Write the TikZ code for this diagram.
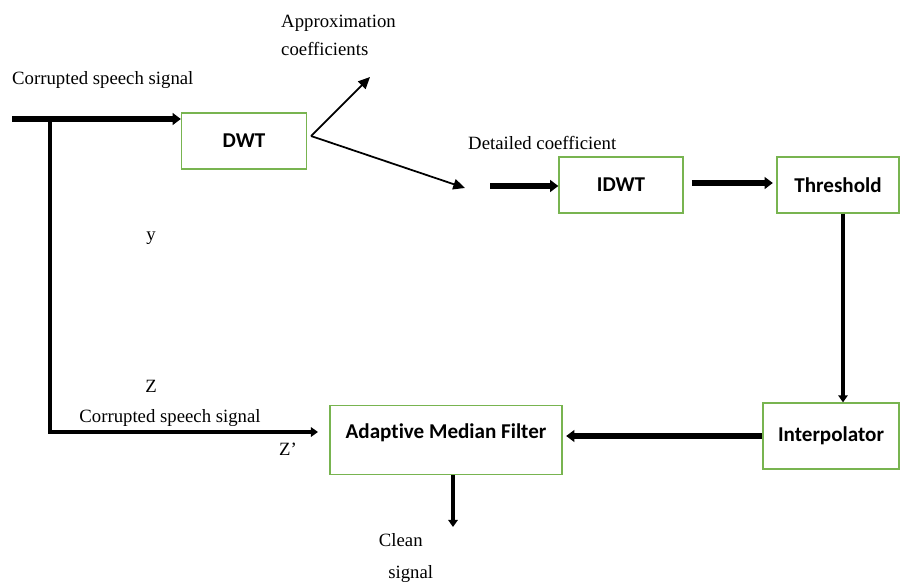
\documentclass[tikz,border=0pt]{standalone}
\usepackage{fontspec}
\setmainfont{Liberation Serif}
\newfontfamily\boxfont[Ligatures=NoCommon]{Carlito}
\usetikzlibrary{arrows.meta}
\definecolor{boxgreen}{RGB}{120,180,80}

\begin{document}
\begin{tikzpicture}[x=0.03cm, y=-0.03cm,
    block/.style={draw=boxgreen, line width=1.1pt, inner sep=0pt,
        font=\boxfont\bfseries\fontsize{18}{20}\selectfont},
    lbl/.style={inner sep=0pt, font=\fontsize{16}{24}\selectfont},
    fat/.style={line width=4.6pt, -{Triangle[length=7pt,width=10pt]}},
    mid/.style={line width=3pt, -{Triangle[length=6pt,width=8pt]}},
    thin/.style={line width=1.5pt, -{Triangle[length=10pt,width=9pt]}}]

    % Fix the page to the picture size
    \useasboundingbox (0,0) rectangle (900,584);

    % Blocks
    \node[block, minimum width=3.75cm, minimum height=1.68cm] (dwt) at (244,141) {DWT};
    \node[block, minimum width=3.72cm, minimum height=1.68cm] (idwt) at (621,185) {IDWT};
    \node[block, minimum width=3.66cm, minimum height=1.68cm] (thr) at (838,185) {Threshold};
    \node[block, minimum width=4.08cm, minimum height=1.98cm] (interp) at (831,436) {Interpolator};
    \node[block, minimum width=6.96cm, minimum height=2.07cm, text depth=0.55cm] (amf) at (446,440) {Adaptive Median Filter};

    % Free ends of the connectors
    \coordinate (in) at (12,119);
    \coordinate (split) at (50,119);
    \coordinate (zin) at (318,432);
    \coordinate (dwtout) at (311,136);
    \coordinate (appr) at (370,77);
    \coordinate (det) at (465,188);
    \coordinate (detin) at (490,186);
    \coordinate (out) at (453,527);

    % Labels
    \node[lbl, anchor=west] (noisy) at (12,80) {Corrupted speech signal};
    \node[lbl, anchor=west, align=left] (apprlbl) at (281,35) {Approximation\\coefficients};
    \node[lbl, anchor=west] (detlbl) at (468,143) {Detailed coefficient};
    \node[lbl] (ylbl) at (151,238) {y};
    \node[lbl] (zlbl) at (151,386) {Z};
    \node[lbl] (noisy2) at (170,418) {Corrupted speech signal};
    \node[lbl] (zplbl) at (288,449) {Z’};
    \node[lbl, align=left] (cleanlbl) at (406,558) {Clean\\[4pt]\hspace*{0.5em}signal};

    % Connectors
    \draw[fat] (in) -- (dwt.west |- in);
    \draw[line width=5.6pt] (split) -- (157,119);
    \draw[mid] (split) |- (zin);
    \draw[thin] (dwtout) -- (appr);
    \draw[thin] (dwtout) -- (det);
    \draw[fat] (detin) -- (idwt.west |- detin);
    \draw[fat, shorten <=7pt, shorten >=3pt] (idwt.east |- 0,183) -- (thr.west |- 0,183);
    \draw[mid] ([xshift=0.15cm]thr.south) -- ([xshift=0.15cm]thr.south |- interp.north);
    \draw[fat, shorten >=3pt] (interp.west) -- (amf.east |- interp.west);
    \draw[mid] (amf.south -| out) -- (out);

\end{tikzpicture}
\end{document}
